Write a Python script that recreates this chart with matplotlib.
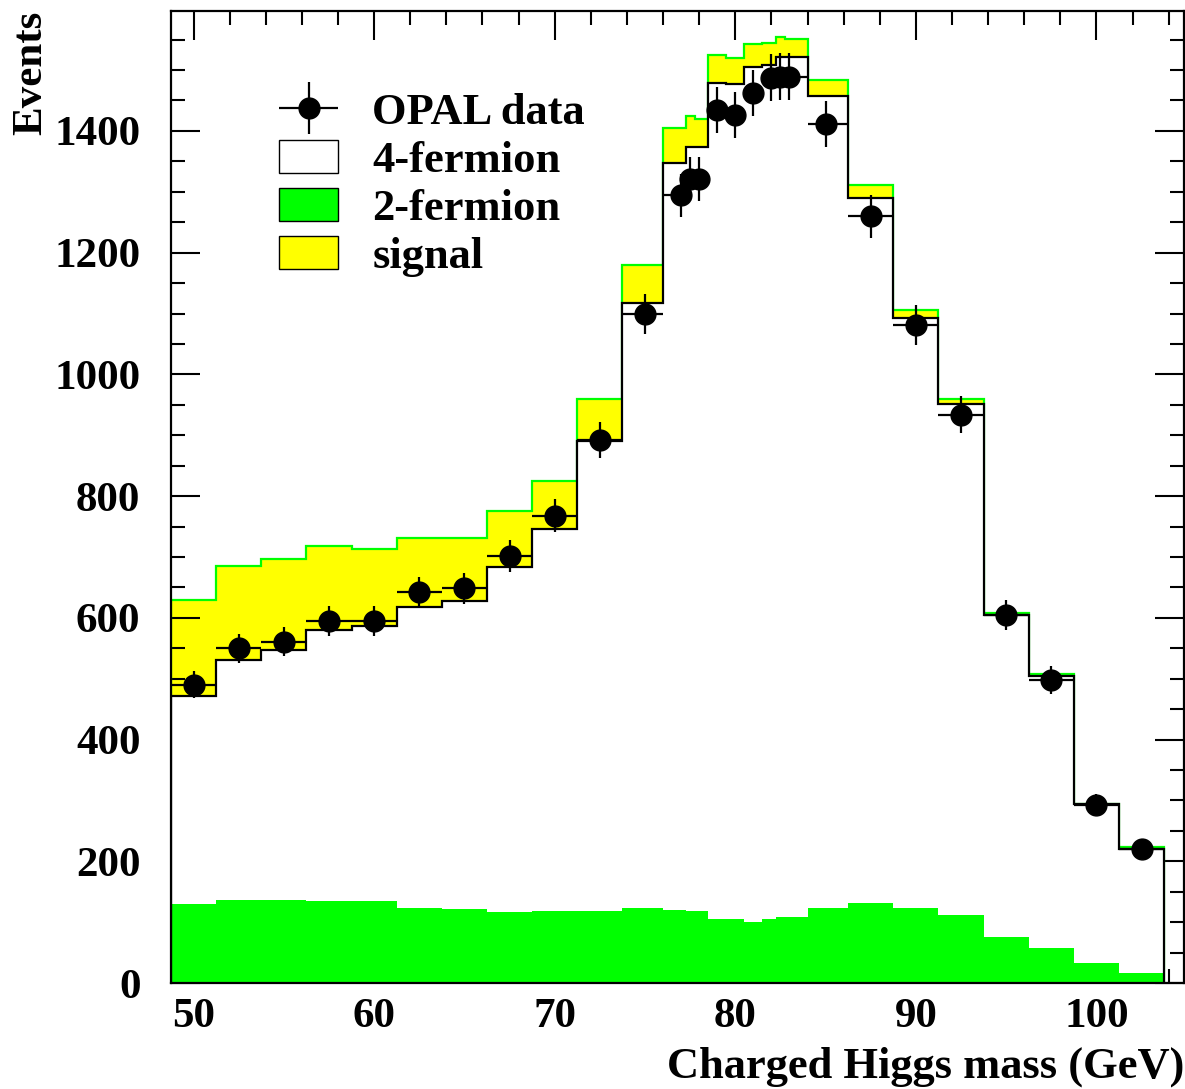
import numpy as np
import matplotlib
matplotlib.use("Agg")
import matplotlib.pyplot as plt
from matplotlib.patches import Patch
from matplotlib.ticker import MultipleLocator
from matplotlib.container import ErrorbarContainer
from matplotlib.legend_handler import HandlerErrorbar

# Bin edges (midpoints between simulated mass points)
edges = np.array([48.75, 51.25, 53.75, 56.25, 58.75, 61.25, 63.75, 66.25, 68.75,
                  71.25, 73.75, 76.0, 77.25, 77.75, 78.5, 79.5, 80.5, 81.5, 82.25,
                  82.75, 84.0, 86.25, 88.75, 91.25, 93.75, 96.25, 98.75, 101.25,
                  103.75])
mass = [50, 52.5, 55, 57.5, 60, 62.5, 65, 67.5, 70, 72.5, 75, 77, 77.5, 78,
        79, 80, 81, 82, 82.5, 83, 85, 87.5, 90, 92.5, 95, 97.5, 100, 102.5]

# stacked totals
two_fermion = [130, 137, 137, 135, 135, 124, 121, 117, 118, 118, 124, 120, 118,
               118, 106, 105, 101, 106, 108, 108, 123, 131, 124, 112, 76, 58, 33, 17]
background = [472, 530, 547, 580, 587, 618, 628, 683, 746, 890, 1118, 1347, 1374,
              1374, 1478, 1477, 1505, 1508, 1521, 1521, 1458, 1290, 1092, 951, 604,
              505, 294, 221]
with_signal = [629, 685, 696, 718, 713, 731, 731, 775, 825, 960, 1180, 1404, 1425,
               1420, 1524, 1519, 1542, 1545, 1555, 1551, 1484, 1311, 1105, 960, 608,
               507, 294, 224]
opal_data = [490, 550, 561, 595, 595, 642, 649, 702, 768, 892, 1099, 1294, 1321,
             1321, 1434, 1426, 1462, 1487, 1489, 1489, 1411, 1260, 1081, 934, 604,
             498, 293, 221]

YELLOW = "#ffff00"
GREEN = "#00ff00"
FONT = "Liberation Serif"

plt.rcParams["font.family"] = FONT
plt.rcParams["font.weight"] = "bold"

fig = plt.figure(figsize=(11.85, 10.89), dpi=100)
ax = fig.add_axes([0.1443, 0.0973, 0.8549, 0.8926])

ax.stairs(with_signal, edges, fill=True, color=YELLOW, zorder=1)
ax.stairs(with_signal, edges, color=GREEN, lw=1.6, baseline=0, zorder=2)
ax.stairs(background, edges, fill=True, color="white", zorder=3)
ax.stairs(two_fermion, edges, fill=True, color=GREEN, zorder=4)
ax.stairs(background, edges, color="black", lw=1.6, baseline=0, zorder=5)

x = np.array(mass, dtype=float)
y = np.array(opal_data, dtype=float)
xerr = [x - edges[:-1], edges[1:] - x]
data = ax.errorbar(x, y, yerr=np.sqrt(y), xerr=xerr, fmt="o", color="black",
                   ms=15, elinewidth=1.6, capsize=0, zorder=6, label="OPAL data")

ax.set_xlim(48.75, 104.85)
ax.set_ylim(0, 1597)
ax.set_xticks(range(50, 101, 10))
ax.set_yticks(range(0, 1401, 200))
ax.xaxis.set_minor_locator(MultipleLocator(2))
ax.yaxis.set_minor_locator(MultipleLocator(50))
ax.tick_params(which="both", direction="in", top=True, right=True, width=1.5,
               labelsize=31)
ax.tick_params(which="major", length=21)
ax.tick_params(which="minor", length=10)
ax.tick_params(axis="x", pad=11)
ax.tick_params(axis="y", pad=22)
for spine in ax.spines.values():
    spine.set_linewidth(1.6)
    spine.set_zorder(10)
for lbl in ax.get_xticklabels() + ax.get_yticklabels():
    lbl.set_fontweight("bold")

ax.set_xlabel("Charged Higgs mass (GeV)", fontsize=32, fontweight="bold",
              loc="right", labelpad=7)
ax.set_ylabel("Events", fontsize=31, fontweight="bold", loc="top", labelpad=3)

handles = [data,
           Patch(facecolor="white", edgecolor="black", lw=1),
           Patch(facecolor=GREEN, edgecolor="black", lw=1),
           Patch(facecolor=YELLOW, edgecolor="black", lw=1)]
labels = ["OPAL data", "4-fermion", "2-fermion", "signal"]
ax.legend(handles, labels, loc="upper left", bbox_to_anchor=(0.1066, 0.917),
          frameon=False, borderpad=0, borderaxespad=0,
          handlelength=1.33, handleheight=0.79, handletextpad=0.77,
          labelspacing=0.15, prop={"family": FONT, "weight": "bold", "size": 32},
          handler_map={ErrorbarContainer: HandlerErrorbar(xerr_size=0.66,
                                                          yerr_size=0.59)})

fig.savefig("out.png", dpi=100)
